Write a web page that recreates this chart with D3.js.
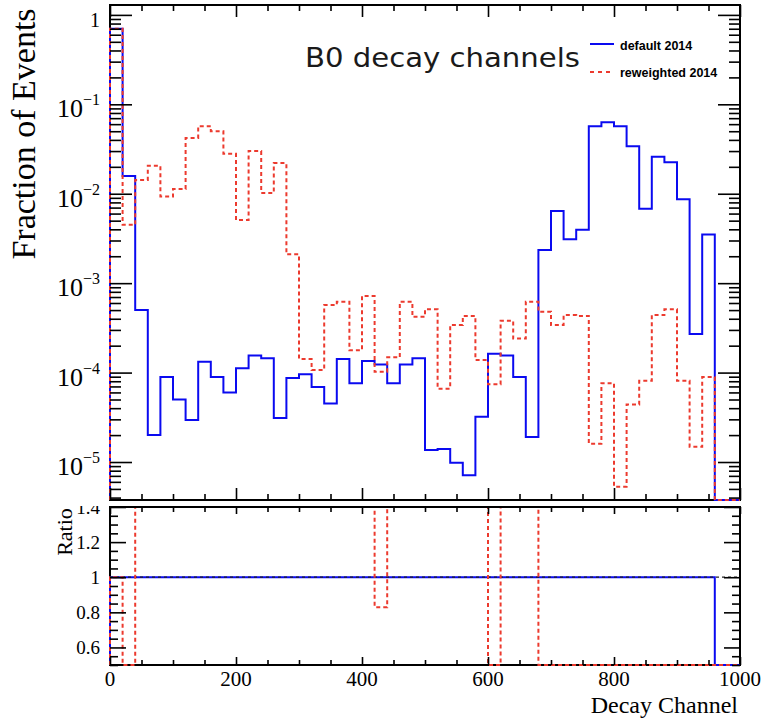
<!DOCTYPE html>
<html>
<head>
<meta charset="utf-8">
<script src="https://cdn.jsdelivr.net/npm/d3@7"></script>
<style>
  body { margin: 0; background: #fff; }
  svg { display: block; }
</style>
</head>
<body>
<svg id="viz" width="763" height="719"></svg>
<script>
// histogram range and binning
var xRange = [0, 1000];
var nBins = 50;

// fraction of events per bin
var defaultFrac = [0.70, 0.0158, 5.0e-4, 2.0e-5, 8.9e-5, 5.0e-5, 2.95e-5, 1.32e-4, 8.9e-5, 6.0e-5,
    1.12e-4, 1.55e-4, 1.45e-4, 3.1e-5, 8.7e-5, 9.6e-5, 6.9e-5, 4.5e-5, 1.42e-4, 7.6e-5,
    1.35e-4, 1.23e-4, 7.6e-5, 1.23e-4, 1.45e-4, 1.36e-5, 1.4e-5, 9.8e-6, 7.1e-6, 3.2e-5,
    1.62e-4, 1.55e-4, 8.9e-5, 1.9e-5, 2.35e-3, 6.4e-3, 3.1e-3, 3.96e-3, 0.057, 0.063,
    0.057, 0.034, 6.8e-3, 0.026, 0.0225, 8.7e-3, 2.7e-4, 3.5e-3, 0, 0];
var reweightedFrac = [0.70, 4.5e-3, 0.0142, 0.0205, 9.3e-3, 0.0113, 0.042, 0.057, 0.050, 0.028,
    5.1e-3, 0.030, 0.0102, 0.022, 2.1e-3, 1.42e-4, 1.07e-4, 5.7e-4, 6.2e-4, 1.78e-4,
    7.2e-4, 1.02e-4, 1.48e-4, 6.2e-4, 4.2e-4, 5.1e-4, 6.6e-5, 3.4e-4, 4.3e-4, 1.38e-4,
    7.4e-5, 3.8e-4, 2.4e-4, 6.2e-4, 4.8e-4, 3.4e-4, 4.4e-4, 4.3e-4, 1.6e-5, 7.6e-5,
    5.3e-6, 4.4e-5, 8.1e-5, 4.4e-4, 5.1e-4, 8.1e-5, 1.48e-5, 8.9e-5, 0, 0];

// tick labels
var xTickLabels = [0, 200, 400, 600, 800, 1000];
var yDecades = [1, 1e-1, 1e-2, 1e-3, 1e-4, 1e-5];
var ratioTickLabels = [0.6, 0.8, 1, 1.2, 1.4];
var seriesNames = ["default 2014", "reweighted 2014"];

var serif = "'Liberation Serif', 'Times New Roman', serif";
var blue = "#0a0af0";
var red = "#ec3a2e";

var L = 110, R = 740, T = 5, B = 500, T2 = 507, B2 = 665;

var svg = d3.select("#viz");
var x = d3.scaleLinear().domain(xRange).range([L, R]);
var y = d3.scaleLog().domain([3.76e-6, 1.29]).range([B, T]);
var yr = d3.scaleLinear().domain([0.5, 1.4]).range([B2, T2]).clamp(true);

var binW = (xRange[1] - xRange[0]) / nBins;

function stepPoints(vals, yfn, yBottom) {
    var pts = [[x(xRange[0]), yBottom]];
    vals.forEach(function (v, i) {
        var yy = yfn(v);
        pts.push([x(xRange[0] + i * binW), yy]);
        pts.push([x(xRange[0] + (i + 1) * binW), yy]);
    });
    pts.push([x(xRange[1]), yBottom]);
    return pts;
}
var line = d3.line();

var defs = svg.append("defs");
defs.append("clipPath").attr("id", "clipTop").append("rect")
    .attr("x", L - 2).attr("y", T).attr("width", R - L + 4).attr("height", B - T + 2);
defs.append("clipPath").attr("id", "clipRatio").append("rect")
    .attr("x", L - 2).attr("y", T2 + 1).attr("width", R - L + 4).attr("height", B2 - T2 + 1);
defs.append("clipPath").attr("id", "clipRatioLab").append("rect")
    .attr("x", 0).attr("y", 506).attr("width", 763).attr("height", 213);

// frames
svg.append("rect").attr("x", L).attr("y", T).attr("width", R - L).attr("height", B - T)
    .attr("fill", "none").attr("stroke", "#000").attr("stroke-width", 2);
svg.append("rect").attr("x", L).attr("y", T2).attr("width", R - L).attr("height", B2 - T2)
    .attr("fill", "none").attr("stroke", "#000").attr("stroke-width", 2);

// top panel histograms
function yLog(v) { return v > 0 ? y(Math.max(v, y.domain()[0])) : B; }
var gTop = svg.append("g").attr("clip-path", "url(#clipTop)");
gTop.append("path").attr("d", line(stepPoints(defaultFrac, yLog, B)))
    .attr("fill", "none").attr("stroke", blue).attr("stroke-width", 2);
gTop.append("path").attr("d", line(stepPoints(reweightedFrac, yLog, B)))
    .attr("fill", "none").attr("stroke", red).attr("stroke-width", 2)
    .attr("stroke-dasharray", "4,3");

// ratio panel
var ratioDefault = defaultFrac.map(function (d) { return d > 0 ? d / d : 0; });
var ratioReweighted = reweightedFrac.map(function (d, i) { return defaultFrac[i] > 0 ? d / defaultFrac[i] : 0; });
var gRat = svg.append("g").attr("clip-path", "url(#clipRatio)");
gRat.append("path").attr("d", line(stepPoints(ratioDefault, yr, B2)))
    .attr("fill", "none").attr("stroke", blue).attr("stroke-width", 2);
gRat.append("line").attr("x1", L).attr("x2", R).attr("y1", yr(1)).attr("y2", yr(1))
    .attr("stroke", "#222").attr("stroke-width", 1.3).attr("stroke-dasharray", "3,3");
gRat.append("path").attr("d", line(stepPoints(ratioReweighted, yr, B2)))
    .attr("fill", "none").attr("stroke", red).attr("stroke-width", 2)
    .attr("stroke-dasharray", "4,3");

// ticks
function ticks(axis, tx, ty) {
    var g = svg.append("g").attr("transform", "translate(" + tx + "," + ty + ")").call(axis);
    g.select(".domain").remove();
    g.selectAll("text").remove();
    g.selectAll("line").attr("stroke", "#000").attr("stroke-width", 1.6);
    return g;
}
var xMajor = d3.range(0, 1001, 200);
var xMinor = d3.range(0, 1001, 50).filter(function (v) { return v % 200 !== 0; });
var logMinor = [];
[1e-6, 1e-5, 1e-4, 1e-3, 1e-2, 1e-1].forEach(function (d) {
    for (var k = 2; k <= 9; k++) {
        var v = d * k;
        if (v >= y.domain()[0] && v <= y.domain()[1]) logMinor.push(v);
    }
});
var rMajor = [0.6, 0.8, 1, 1.2, 1.4];
var rMinor = d3.range(0.5, 1.401, 0.05).filter(function (v) {
    return Math.abs(Math.round(v * 5) - v * 5) > 1e-6;
});

// top panel
ticks(d3.axisTop(x).tickValues(xMajor).tickSize(-12), 0, T);
ticks(d3.axisTop(x).tickValues(xMinor).tickSize(-6), 0, T);
ticks(d3.axisBottom(x).tickValues(xMajor).tickSize(-12), 0, B);
ticks(d3.axisBottom(x).tickValues(xMinor).tickSize(-6), 0, B);
ticks(d3.axisLeft(y).tickValues(yDecades).tickSize(-22), L, 0);
ticks(d3.axisLeft(y).tickValues(logMinor).tickSize(-11), L, 0);
ticks(d3.axisRight(y).tickValues(yDecades).tickSize(-22), R, 0);
ticks(d3.axisRight(y).tickValues(logMinor).tickSize(-11), R, 0);
// ratio panel
ticks(d3.axisTop(x).tickValues(xMajor).tickSize(-7), 0, T2);
ticks(d3.axisTop(x).tickValues(xMinor).tickSize(-5), 0, T2);
ticks(d3.axisBottom(x).tickValues(xMajor).tickSize(-8), 0, B2);
ticks(d3.axisBottom(x).tickValues(xMinor).tickSize(-5), 0, B2);
ticks(d3.axisLeft(yr).tickValues(rMajor).tickSize(-16), L, 0);
ticks(d3.axisLeft(yr).tickValues(rMinor).tickSize(-8), L, 0);
ticks(d3.axisRight(yr).tickValues(rMajor).tickSize(-16), R, 0);
ticks(d3.axisRight(yr).tickValues(rMinor).tickSize(-8), R, 0);

// log labels
var gLab = svg.append("g").attr("font-family", serif).attr("fill", "#000");
yDecades.forEach(function (v) {
    var e = Math.round(Math.log10(v));
    if (e === 0) {
        gLab.append("text").attr("x", 100).attr("y", y(v) + 12).attr("text-anchor", "end")
            .attr("font-size", 20).text("1");
    } else {
        var t = gLab.append("text").attr("x", 100).attr("y", y(v) + 13).attr("text-anchor", "end")
            .attr("font-size", 26);
        t.append("tspan").text("10");
        t.append("tspan").attr("font-size", 16).attr("dy", -12).text("\u2212" + (-e));
    }
});

// ratio labels
var gRL = svg.append("g").attr("clip-path", "url(#clipRatioLab)").attr("font-family", serif);
gRL.selectAll("text").data(ratioTickLabels).enter().append("text")
    .attr("x", 100).attr("y", function (d) { return yr(d) + 7; })
    .attr("text-anchor", "end").attr("font-size", 19)
    .text(function (d) { return d3.format("")(d); });

// x labels
svg.append("g").attr("font-family", serif).selectAll("text").data(xTickLabels).enter().append("text")
    .attr("x", function (d) { return x(d); }).attr("y", 686)
    .attr("text-anchor", "middle").attr("font-size", 21)
    .text(function (d) { return d; });

// axis titles
svg.append("text").attr("font-family", serif).attr("font-size", 24)
    .attr("x", 738).attr("y", 713).attr("text-anchor", "end").text("Decay Channel");
svg.append("text").attr("font-family", serif).attr("font-size", 34)
    .attr("transform", "translate(35,134) rotate(-90)").attr("text-anchor", "middle")
    .text("Fraction of Events");
svg.append("text").attr("font-family", serif).attr("font-size", 22)
    .attr("transform", "translate(72,532) rotate(-90)").attr("text-anchor", "middle")
    .text("Ratio");

// title
svg.append("text").attr("font-family", "'DejaVu Sans', sans-serif").attr("font-size", 27)
    .attr("fill", "#1a1a1a").attr("x", 305).attr("y", 67)
    .attr("textLength", 275).attr("lengthAdjust", "spacingAndGlyphs")
    .text("B0 decay channels");

// legend
var leg = svg.append("g").attr("font-family", "'Liberation Sans', Arial, sans-serif")
    .attr("font-weight", "bold").attr("font-size", 12.5);
leg.append("line").attr("x1", 590).attr("x2", 614).attr("y1", 44).attr("y2", 44)
    .attr("stroke", blue).attr("stroke-width", 2);
leg.append("text").attr("x", 620).attr("y", 50).text(seriesNames[0]);
leg.append("line").attr("x1", 590).attr("x2", 614).attr("y1", 72).attr("y2", 72)
    .attr("stroke", red).attr("stroke-width", 2).attr("stroke-dasharray", "4,4");
leg.append("text").attr("x", 620).attr("y", 77).text(seriesNames[1]);
</script>
</body>
</html>
